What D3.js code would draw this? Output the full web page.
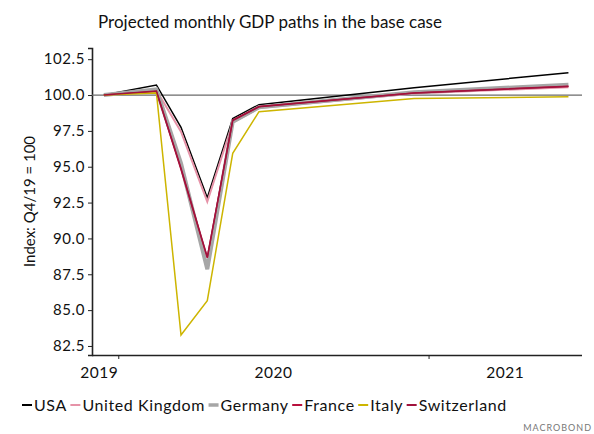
<!DOCTYPE html>
<html>
<head>
<meta charset="utf-8">
<script src="https://cdn.jsdelivr.net/npm/d3@7"></script>
<style>
  body { margin: 0; background: #fff; }
  svg { display: block; font-family: Lato, "Open Sans", sans-serif; }
</style>
</head>
<body>
<svg id="chart" width="594" height="434"></svg>
<script>
// observation months (points sit mid-month)
var months = ["2019-12", "2020-02", "2020-03", "2020-04", "2020-05", "2020-06", "2020-12", "2021-06"];

var usa         = [100.0, 100.70, 97.75, 92.84, 98.37, 99.33, 100.50, 101.56];
var uk          = [100.0, 100.33, 97.44, 92.56, 98.07, 99.09, 100.10, 100.55];
var germany     = [100.0, 100.40, 95.23, 87.85, 98.14, 99.15, 100.20, 100.72];
var france      = [100.0, 100.25, 94.80, 88.65, 98.26, 99.20, 100.15, 100.62];
var italy       = [100.0, 100.15, 83.26, 85.66, 95.93, 98.84, 99.76, 99.88];
var switzerland = [100.0, 100.28, 94.90, 88.70, 98.22, 99.18, 100.14, 100.60];

var seriesNames  = ["USA", "United Kingdom", "Germany", "France", "Italy", "Switzerland"];
var seriesValues = [usa, uk, germany, france, italy, switzerland];
var seriesColors = ["#000000", "#e693a8", "#a6a6a6", "#b8103c", "#cdb500", "#a0123c"];
var seriesWidths = [1.5, 2, 4, 1.5, 1.5, 1.5];

var yTicks = [82.5, 85.0, 87.5, 90.0, 92.5, 95.0, 97.5, 100.0, 102.5];
var years  = [2019, 2020, 2021];

var svg = d3.select("#chart");

var parseMonth = d3.timeParse("%Y-%m");
var midMonth = function(m) {
	var d = parseMonth(m);
	return new Date(d.getFullYear(), d.getMonth(), 15);
};

var x = d3.scaleTime()
	.domain([new Date(2019, 11, 1), new Date(2021, 6, 1)])
	.range([92, 582]);

var y = d3.scaleLinear()
	.domain([81.87, 103.28])
	.range([355, 48]);

// title
svg.append("text")
	.attr("x", 270)
	.attr("y", 28)
	.attr("text-anchor", "middle")
	.attr("font-size", "17px")
	.attr("fill", "#111")
	.text("Projected monthly GDP paths in the base case");

// y axis
var yAxis = svg.append("g")
	.attr("transform", "translate(92,0)")
	.call(d3.axisLeft(y).tickValues(yTicks).tickSize(4).tickPadding(3).tickFormat(d3.format(".1f")));
yAxis.select(".domain").attr("stroke", "#222").attr("stroke-width", 1.6);
yAxis.selectAll(".tick line").attr("stroke", "#222");
yAxis.selectAll("text")
	.attr("font-size", "15px")
	.attr("letter-spacing", "0.6px")
	.attr("fill", "#111")
	.attr("font-family", "Lato, sans-serif");

svg.append("text")
	.attr("transform", "translate(35," + ((48 + 355) / 2) + ") rotate(-90)")
	.attr("text-anchor", "middle")
	.attr("font-size", "15px")
	.attr("fill", "#111")
	.text("Index: Q4/19 = 100");

// x axis
var xAxis = svg.append("g")
	.attr("transform", "translate(0,355)")
	.call(d3.axisBottom(x).tickValues([new Date(2020, 0, 1), new Date(2021, 0, 1)]).tickSize(4).tickFormat(""));
xAxis.select(".domain").attr("stroke", "#222").attr("stroke-width", 1.6).attr("d", "M92,0.5H582");
xAxis.selectAll(".tick line").attr("stroke", "#222");

// year labels: centred in the visible part of each year, kept left of the year end
var x0 = x.domain()[0], x1 = x.domain()[1];
years.forEach(function(yr) {
	var s = new Date(yr, 0, 1), e = new Date(yr + 1, 0, 1);
	var vs = s < x0 ? x0 : s, ve = e > x1 ? x1 : e;
	var cx = (x(vs) + x(ve)) / 2;
	var half = 18;
	if (cx + half > x(ve) && e <= x1) cx = x(ve) - half - 1;
	svg.append("text")
		.attr("x", cx)
		.attr("y", 378)
		.attr("text-anchor", "middle")
		.attr("font-size", "15.5px")
		.attr("letter-spacing", "0.5px")
		.attr("fill", "#111")
		.text(yr);
});

// reference line at 100
svg.append("line")
	.attr("x1", 92)
	.attr("x2", 582)
	.attr("y1", y(100))
	.attr("y2", y(100))
	.attr("stroke", "#6b6b6b")
	.attr("stroke-width", 1.2);

var line = d3.line()
	.x(function(d, i) { return x(midMonth(months[i])); })
	.y(function(d) { return y(d); });

svg.selectAll("path.series")
	.data(seriesValues)
	.enter()
	.append("path")
	.attr("class", "series")
	.attr("fill", "none")
	.attr("stroke", function(_, i) { return seriesColors[i]; })
	.attr("stroke-width", function(_, i) { return seriesWidths[i]; })
	.attr("stroke-linejoin", "miter")
	.attr("d", line);

// legend
var legend = svg.append("g").attr("transform", "translate(22,405)");
var lx = 0;
seriesNames.forEach(function(name, i) {
	legend.append("line")
		.attr("x1", lx)
		.attr("x2", lx + 10)
		.attr("y1", 0)
		.attr("y2", 0)
		.attr("stroke", seriesColors[i])
		.attr("stroke-width", i == 2 ? 3.5 : 2);
	var t = legend.append("text")
		.attr("x", lx + 12)
		.attr("y", 5.5)
		.attr("font-size", "16px")
		.attr("letter-spacing", "0.6px")
		.attr("fill", "#111")
		.text(name);
	lx += 12 + t.node().getComputedTextLength() + 3.5;
});

// source mark
svg.append("text")
	.attr("x", 592)
	.attr("y", 431)
	.attr("text-anchor", "end")
	.attr("font-size", "9px")
	.attr("letter-spacing", "1px")
	.attr("fill", "#777")
	.text("MACROBOND");
</script>
</body>
</html>
